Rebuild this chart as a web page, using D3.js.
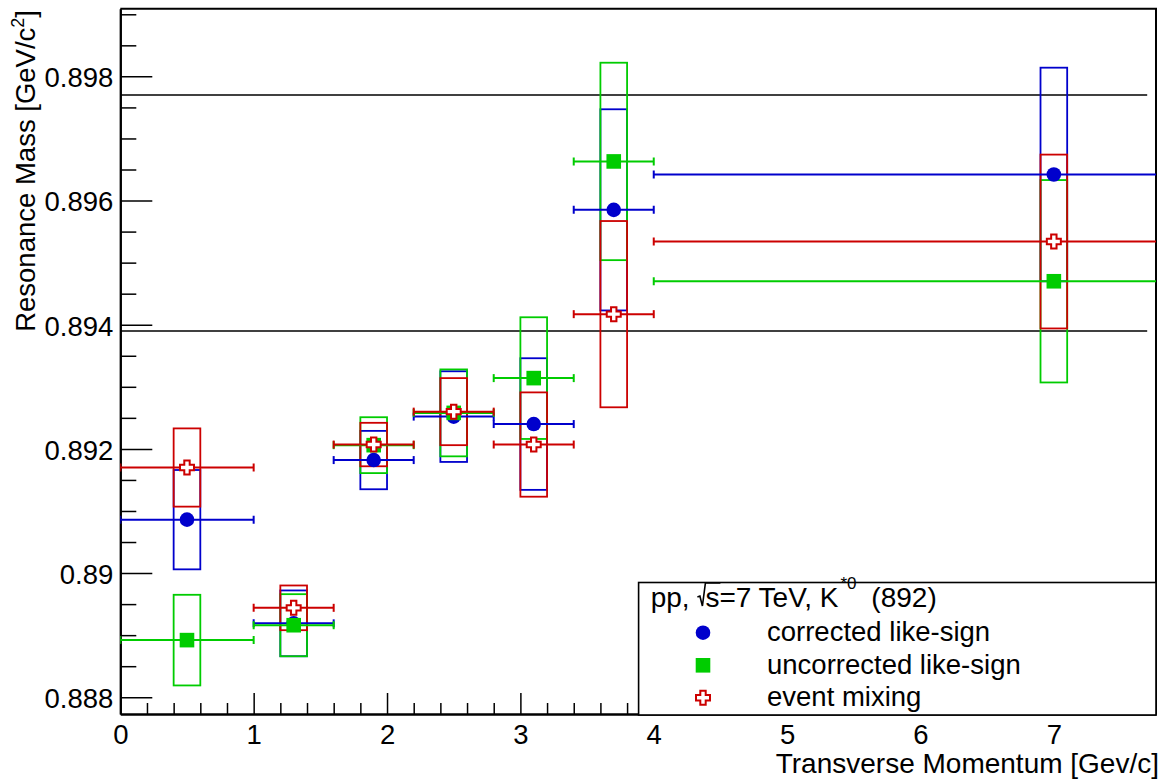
<!DOCTYPE html>
<html>
<head>
<meta charset="utf-8">
<script src="https://cdn.jsdelivr.net/npm/d3@7"></script>
<style>
  body { margin: 0; background: #fff; }
  svg text { font-family: "Liberation Sans", Arial, Helvetica, sans-serif; }
</style>
</head>
<body>
<svg id="chart" width="1167" height="780"></svg>
<script>
// Transverse-momentum bins (GeV/c)
const ptCenters = [0.5, 1.3, 1.9, 2.5, 3.1, 3.7, 7.0];
const ptLow     = [0.0, 1.0, 1.6, 2.2, 2.8, 3.4, 4.0];
const ptHigh    = [1.0, 1.6, 2.2, 2.8, 3.4, 4.0, 10.0];
const sysBoxHalfWidth = 0.1;

// K*0(892) fitted mass per bin (GeV/c^2) and systematic uncertainty
const correctedMass   = [0.89086, 0.88919, 0.89182, 0.89252, 0.89240, 0.89585, 0.89642];
const correctedSys    = [0.00080, 0.00053, 0.00047, 0.00073, 0.00106, 0.00162, 0.00172];
const uncorrectedMass = [0.88892, 0.88916, 0.89206, 0.89258, 0.89314, 0.89663, 0.89470];
const uncorrectedSys  = [0.00073, 0.00050, 0.00045, 0.00070, 0.00098, 0.00159, 0.00163];
const mixingMass      = [0.89170, 0.88944, 0.89207, 0.89260, 0.89207, 0.89417, 0.89534];
const mixingSys       = [0.00063, 0.00036, 0.00035, 0.00054, 0.00084, 0.00150, 0.00140];

// Reference band edges
const refLines = [0.8977, 0.8939];
const refLineRange = [0, 7.7];

// Axis ticks
const xTickValues = [0, 1, 2, 3, 4, 5, 6, 7];
const xTickLabels = ["0", "1", "2", "3", "4", "5", "6", "7"];
const yTickValues = [0.888, 0.890, 0.892, 0.894, 0.896, 0.898];
const yTickLabels = ["0.888", "0.89", "0.892", "0.894", "0.896", "0.898"];

const seriesNames = ["corrected like-sign", "uncorrected like-sign", "event mixing"];

// ---------------------------------------------------------------------------
const FONT = 27.5;
const TITLE_FONT = 28;
const blue = "#0000cc", green = "#00cc00", red = "#cc0000";

const series = [
  { name: seriesNames[0], mass: correctedMass,   sys: correctedSys,   color: blue,  marker: "circle" },
  { name: seriesNames[1], mass: uncorrectedMass, sys: uncorrectedSys, color: green, marker: "square" },
  { name: seriesNames[2], mass: mixingMass,      sys: mixingSys,      color: red,   marker: "cross" }
];

const frame = { left: 120.3, right: 1156, top: 8.7, bottom: 714 };
const x = d3.scaleLinear().domain([0, 7.766]).range([frame.left, frame.right]);
const y = d3.scaleLinear().domain([0.88773, 0.89909]).range([frame.bottom, frame.top]);

const svg = d3.select("#chart");
svg.append("rect").attr("width", 1167).attr("height", 780).attr("fill", "#fff");

svg.append("defs").append("clipPath").attr("id", "plotArea")
  .append("rect")
  .attr("x", frame.left).attr("y", frame.top)
  .attr("width", frame.right - frame.left).attr("height", frame.bottom - frame.top);

function styleAxis(g) {
  g.attr("font-family", null).attr("font-size", FONT);
  g.selectAll("text").attr("fill", "#000");
  g.selectAll(".tick line").attr("stroke", "#000").attr("stroke-width", 1.5);
  g.select(".domain").attr("stroke", "#000").attr("stroke-width", 2);
}

// x axis: major + minor ticks, drawn inward
const xMinor = d3.range(0, 7.7, 0.2).filter(v => Math.abs(v - Math.round(v)) > 1e-6);
svg.append("g").attr("transform", `translate(0,${frame.bottom})`)
  .call(d3.axisBottom(x).tickValues(xMinor).tickFormat("").tickSizeInner(-11).tickSizeOuter(0))
  .call(styleAxis);
svg.append("g").attr("transform", `translate(0,${frame.bottom})`)
  .call(d3.axisBottom(x).tickValues(xTickValues).tickFormat((d, i) => xTickLabels[i])
    .tickSizeInner(-21).tickSizeOuter(0).tickPadding(10))
  .call(styleAxis);

// y axis: major + minor ticks, drawn inward
const yMinor = d3.range(0.888, 0.8991, 0.0005).filter(v => Math.abs(v * 500 - Math.round(v * 500)) > 1e-6);
svg.append("g").attr("transform", `translate(${frame.left},0)`)
  .call(d3.axisLeft(y).tickValues(yMinor).tickFormat("").tickSizeInner(-16).tickSizeOuter(0))
  .call(styleAxis);
svg.append("g").attr("transform", `translate(${frame.left},0)`)
  .call(d3.axisLeft(y).tickValues(yTickValues).tickFormat((d, i) => yTickLabels[i])
    .tickSizeInner(-32).tickSizeOuter(0).tickPadding(7))
  .call(styleAxis)
  .selectAll("text").attr("dy", "0.38em");

// frame top and right edges
svg.append("path")
  .attr("d", `M${frame.left},${frame.top}H${frame.right}V${frame.bottom}`)
  .attr("fill", "none").attr("stroke", "#000").attr("stroke-width", 2);

// reference lines
svg.append("g").selectAll("line").data(refLines).join("line")
  .attr("x1", x(refLineRange[0])).attr("x2", x(refLineRange[1]))
  .attr("y1", d => y(d)).attr("y2", d => y(d))
  .attr("stroke", "#000").attr("stroke-width", 1.5);

const plot = svg.append("g").attr("clip-path", "url(#plotArea)");

// systematic boxes
series.forEach(s => {
  plot.append("g").selectAll("rect").data(ptCenters).join("rect")
    .attr("x", d => x(d - sysBoxHalfWidth))
    .attr("width", d => x(d + sysBoxHalfWidth) - x(d - sysBoxHalfWidth))
    .attr("y", (d, i) => y(s.mass[i] + s.sys[i]))
    .attr("height", (d, i) => y(s.mass[i] - s.sys[i]) - y(s.mass[i] + s.sys[i]))
    .attr("fill", "none").attr("stroke", s.color).attr("stroke-width", 1.8);
});

function crossPath(cx, cy, h = 7, a = 2.7) {
  return `M${cx - a},${cy - h}H${cx + a}V${cy - a}H${cx + h}V${cy + a}H${cx + a}` +
         `V${cy + h}H${cx - a}V${cy + a}H${cx - h}V${cy - a}H${cx - a}Z`;
}

function drawMarker(g, kind, color, cx, cy) {
  if (kind === "circle") {
    g.append("circle").attr("cx", cx).attr("cy", cy).attr("r", 7.3).attr("fill", color);
  } else if (kind === "square") {
    g.append("rect").attr("x", cx - 7.3).attr("y", cy - 7.3)
      .attr("width", 14.6).attr("height", 14.6).attr("fill", color);
  } else {
    g.append("path").attr("d", crossPath(cx, cy))
      .attr("fill", "#fff").attr("stroke", color).attr("stroke-width", 2);
  }
}

// horizontal bin-width bars with end caps, then markers
series.forEach(s => {
  const g = plot.append("g");
  ptCenters.forEach((pt, i) => {
    const yy = y(s.mass[i]);
    g.append("line").attr("x1", x(ptLow[i])).attr("x2", x(ptHigh[i]))
      .attr("y1", yy).attr("y2", yy).attr("stroke", s.color).attr("stroke-width", 2);
    [ptLow[i], ptHigh[i]].forEach(e => {
      g.append("line").attr("x1", x(e)).attr("x2", x(e))
        .attr("y1", yy - 4).attr("y2", yy + 4).attr("stroke", s.color).attr("stroke-width", 2);
    });
  });
  ptCenters.forEach((pt, i) => drawMarker(g, s.marker, s.color, x(pt), y(s.mass[i])));
});

// axis titles
svg.append("text")
  .attr("x", 1159).attr("y", 773).attr("text-anchor", "end").attr("font-size", TITLE_FONT)
  .text("Transverse Momentum [Gev/c]");

const yTitle = svg.append("text")
  .attr("transform", "translate(35,10) rotate(-90)")
  .attr("text-anchor", "end").attr("font-size", FONT);
yTitle.append("tspan").text("Resonance Mass [GeV/c");
yTitle.append("tspan").attr("font-size", 18).attr("dy", -11).text("2");
yTitle.append("tspan").attr("dy", 11).text("]");

// legend
const legend = svg.append("g");
const lg = { x0: 638.6, y0: 582.5, x1: 1156, y1: 715 };
legend.append("rect")
  .attr("x", lg.x0).attr("y", lg.y0).attr("width", lg.x1 - lg.x0).attr("height", lg.y1 - lg.y0)
  .attr("fill", "#fff").attr("stroke", "#000").attr("stroke-width", 1.6);

const header = legend.append("text").attr("x", 650.7).attr("y", 607).attr("font-size", TITLE_FONT);
header.append("tspan").text("pp, ");
header.append("tspan").attr("dx", 8).text("s=7 TeV, K");
header.append("tspan").attr("font-size", 17).attr("dy", -18).attr("dx", 2).text("*0");
header.append("tspan").attr("font-size", TITLE_FONT).attr("dy", 18).attr("dx", 7).text(" (892)");

// radical sign over the "s"
const hn = header.node();
const sStart = hn.getStartPositionOfChar(4).x;
const sEnd = hn.getEndPositionOfChar(4).x;
legend.append("path")
  .attr("d", `M${sStart - 8},${597}L${sStart - 5.5},${596}L${sStart - 3},${606}L${sStart},${583}H${sEnd + 1}`)
  .attr("fill", "none").attr("stroke", "#000").attr("stroke-width", 1.6);

const rowY = [632.7, 665.3, 697.7];
series.forEach((s, i) => {
  drawMarker(legend, s.marker, s.color, 703, rowY[i]);
  legend.append("text").attr("x", 767).attr("y", rowY[i] + 8.5).attr("font-size", FONT).text(s.name);
});
</script>
</body>
</html>
